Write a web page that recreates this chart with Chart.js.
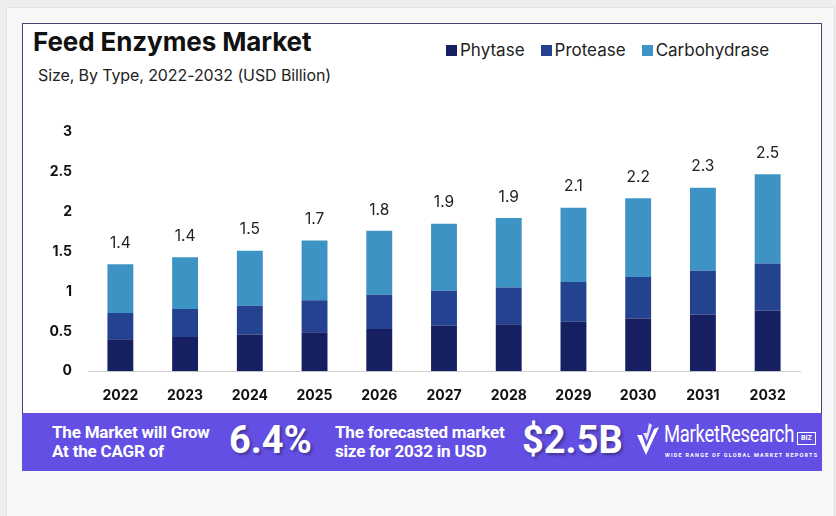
<!DOCTYPE html>
<html>
<head>
<meta charset="utf-8">
<script src="https://cdn.jsdelivr.net/npm/chart.js@4.4.1/dist/chart.umd.min.js"></script>
<style>
  html, body { margin: 0; padding: 0; }
  body { width: 836px; height: 516px; background: #eeeeee; position: relative; overflow: hidden; font-family: Inter, "Noto Sans", sans-serif; }
  #frame { position: absolute; left: 6px; top: 7px; width: 827px; height: 520px; background: #f7f7f7; border: 1px solid #e2e2e2; }
  #card { position: absolute; left: 22px; top: 23px; width: 798px; height: 390px; background: #fff; border: 1px solid #45456e; border-bottom: none; }
  #title { position: absolute; left: 33px; top: 26px; font-size: 26px; font-weight: 700; color: #111; letter-spacing: -0.1px; }
  #subtitle { position: absolute; left: 38px; top: 65px; font-size: 16px; color: #222; letter-spacing: -0.1px; }
  #legend { position: absolute; left: 446px; top: 40px; font-size: 17px; color: #222; display: flex; }
  #legend span.item { display: flex; align-items: center; margin-right: 16px; }
  #legend span.box { width: 11px; height: 11px; margin-right: 3px; display: inline-block; }
  #wrap { position: absolute; left: 22px; top: 100px; width: 800px; height: 312px; }
  #banner { position: absolute; left: 22px; top: 413px; width: 800px; height: 58px; background: #634fe4; color: #fff; font-family: Roboto, sans-serif; }
  .small { position: absolute; font-size: 17px; font-weight: 700; line-height: 19px; letter-spacing: -0.2px; }
  .big { position: absolute; font-size: 38px; font-weight: 700; top: 5px; text-shadow: 2px 2px 3px rgba(0,0,0,0.35); }
  #logo { position: absolute; left: 613px; top: 8px; }
  #mr { position: absolute; left: 642px; top: 8px; font-family: Roboto, sans-serif; font-size: 23px; transform: scaleX(0.8); transform-origin: left top; letter-spacing: -0.3px; }
  #biz { position: absolute; left: 775px; top: 19px; width: 17px; height: 11px; border: 1px solid #fff; font-size: 7px; font-weight: 700; text-align: center; line-height: 11px; }
  #tag { position: absolute; left: 643px; top: 39px; font-size: 5.5px; font-weight: 700; letter-spacing: 1.2px; }
</style>
</head>
<body>
<div id="frame"></div>
<div id="card"></div>
<div id="title">Feed Enzymes Market</div>
<div id="subtitle">Size, By Type, 2022-2032 (USD Billion)</div>
<div id="legend"></div>
<div id="wrap"><canvas id="chart"></canvas></div>
<div id="banner">
  <div class="small" style="left:30px; top:10px;">The Market will Grow<br>At the CAGR of</div>
  <div class="big" style="left:207px;">6.4%</div>
  <div class="small" style="left:313px; top:10px;">The forecasted market<br>size for 2032 in USD</div>
  <div class="big" style="left:500px;">$2.5B</div>
  <svg id="logo" width="26" height="40" viewBox="0 0 26 40">
    <path d="M2 14 L11 34 L24 6 L19 8 L11 26 L7 14 Z" fill="#fff"/>
    <path d="M8 12 L12 20 L17 4 L14 2 L12 12 Z" fill="#fff" opacity="0.85"/>
  </svg>
  <div id="mr">MarketResearch</div>
  <div id="biz">BIZ</div>
  <div id="tag">WIDE RANGE OF GLOBAL MARKET REPORTS</div>
</div>
<script>
const years = ['2022', '2023', '2024', '2025', '2026', '2027', '2028', '2029', '2030', '2031', '2032'];
const phytase = [0.40, 0.43, 0.46, 0.49, 0.53, 0.57, 0.59, 0.62, 0.66, 0.71, 0.76];
const protease = [0.33, 0.35, 0.36, 0.40, 0.43, 0.44, 0.46, 0.50, 0.52, 0.55, 0.59];
const carbohydrase = [0.61, 0.65, 0.69, 0.75, 0.80, 0.84, 0.87, 0.93, 0.99, 1.04, 1.12];
const totals = ['1.4', '1.4', '1.5', '1.7', '1.8', '1.9', '1.9', '2.1', '2.2', '2.3', '2.5'];
const seriesNames = ['Phytase', 'Protease', 'Carbohydrase'];
const seriesColors = ['#151f62', '#23428f', '#3c93c4'];

// legend in html
const legend = document.getElementById('legend');
seriesNames.forEach((name, i) => {
  legend.innerHTML += '<span class="item"><span class="box" style="background:' + seriesColors[i] + '"></span>' + name + '</span>';
});

const totalLabels = {
  id: 'totalLabels',
  afterDatasetsDraw(chart) {
    const ctx = chart.ctx;
    const meta = chart.getDatasetMeta(2);
    ctx.save();
    ctx.font = '15.5px Inter, sans-serif';
    ctx.fillStyle = '#222';
    ctx.textAlign = 'center';
    ctx.textBaseline = 'middle';
    meta.data.forEach((bar, i) => {
      ctx.fillText(totals[i], bar.x, bar.y - 21);
    });
    ctx.restore();
  }
};

const ctx = document.getElementById('chart');
new Chart(ctx, {
  type: 'bar',
  data: {
    labels: years,
    datasets: [
      { label: seriesNames[0], data: phytase, backgroundColor: seriesColors[0] },
      { label: seriesNames[1], data: protease, backgroundColor: seriesColors[1] },
      { label: seriesNames[2], data: carbohydrase, backgroundColor: seriesColors[2] }
    ]
  },
  options: {
    responsive: true,
    maintainAspectRatio: false,
    animation: false,
    layout: { padding: { top: 32, right: 22, bottom: 0, left: 0 } },
    datasets: { bar: { barPercentage: 0.4, categoryPercentage: 1 } },
    plugins: { legend: { display: false }, tooltip: { enabled: false } },
    scales: {
      x: {
        stacked: true,
        grid: { display: false },
        border: { display: true, color: '#cfcfcf' },
        ticks: { color: '#111', padding: 8, font: { family: 'Inter', size: 14, weight: 'bold' } }
      },
      y: {
        stacked: true,
        min: 0,
        max: 3,
        grid: { display: false },
        border: { display: false },
        afterFit(scale) { scale.width = 66; },
        ticks: {
          stepSize: 0.5,
          padding: 8,
          color: '#111',
          font: { family: 'Inter', size: 14, weight: 'bold' },
          callback: (value) => String(value)
        }
      }
    }
  },
  plugins: [totalLabels]
});
</script>
</body>
</html>
